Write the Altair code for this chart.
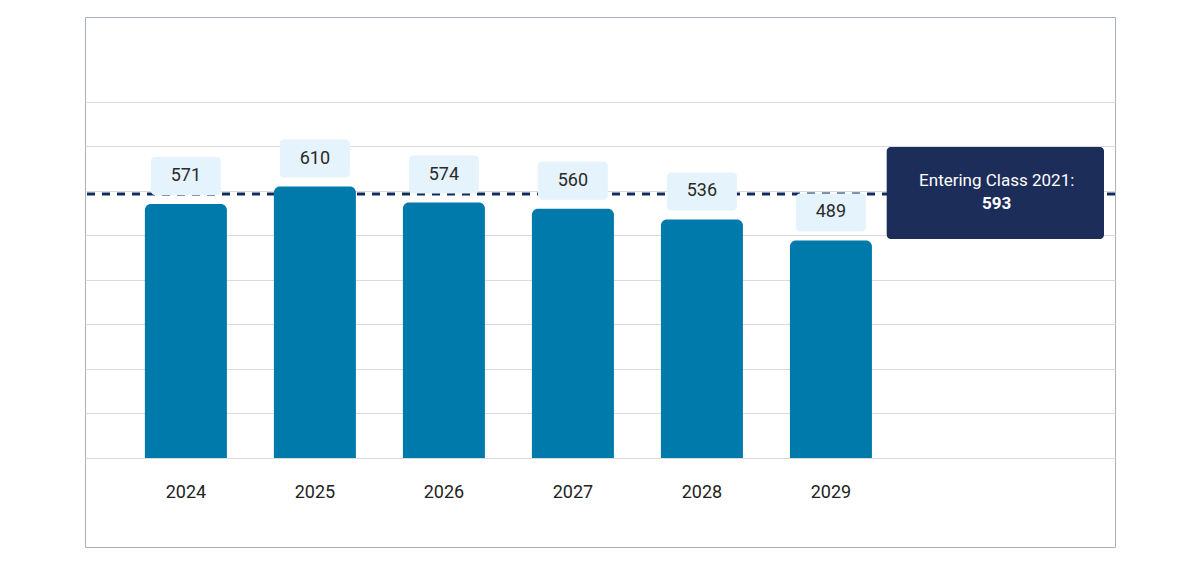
import altair as alt
import pandas as pd

years = ["2024", "2025", "2026", "2027", "2028", "2029"]
students = [571, 610, 574, 560, 536, 489]
ref_label = "Entering Class 2021:"
ref_value = 593
grid_values = [0, 100, 200, 300, 400, 500, 600, 700, 800]

df = pd.DataFrame({"year": years, "value": students})
ref_df = pd.DataFrame({"label": [ref_label], "value": [ref_value]})

FONT = "Roboto"
yscale = alt.Scale(domain=[-200, 991], nice=False, zero=False)
xscale = alt.Scale(domain=years, paddingInner=0.016, paddingOuter=1, align=0.145)

yaxis = alt.Axis(values=grid_values, grid=True, labels=False, ticks=False, domain=False,
                 title=None, gridColor="#d9d9de", gridWidth=1)
xaxis = alt.Axis(orient="bottom", offset=-89, labelPadding=34, labelBaseline="middle",
                 ticks=False, tickSize=0, domain=False, grid=False, title=None,
                 labelAngle=0, labelFont=FONT, labelFontSize=18, labelColor="#222222")

x_enc = alt.X("year:N", scale=xscale, axis=xaxis)
y_enc = alt.Y("value:Q", scale=yscale, axis=yaxis)

rule = alt.Chart(ref_df).mark_rule(
    color="#0f2d5c", strokeWidth=3, strokeDash=[8, 7]
).encode(y=y_enc)

bars = alt.Chart(df).mark_bar(
    color="#0079ab", width=82, cornerRadiusTopLeft=6, cornerRadiusTopRight=6
).encode(x=x_enc, y=y_enc, y2=alt.datum(0))

boxes = alt.Chart(df).mark_bar(
    color="#e5f4fc", width=70, cornerRadius=4, yOffset=-9, y2Offset=-47
).encode(x=x_enc, y=y_enc, y2=alt.Y2("value:Q"))

labels = alt.Chart(df).mark_text(
    font=FONT, fontSize=18, color="#2a2a2a", dy=-28, baseline="middle"
).encode(x=x_enc, y=y_enc, text=alt.Text("value:Q"))

ann_box = alt.Chart(ref_df).mark_rect(
    color="#1c2d5a", cornerRadius=4, yOffset=-47, y2Offset=45
).encode(x=alt.value(801.7), x2=alt.value(1019), y=y_enc, y2=alt.Y2("value:Q"))

ann_t1 = alt.Chart(ref_df).mark_text(
    font=FONT, fontSize=17, color="white", dy=-13, baseline="middle"
).encode(x=alt.value(911.7), y=y_enc, text="label:N")

ann_t2 = alt.Chart(ref_df).mark_text(
    font=FONT, fontSize=17, fontWeight="bold", color="white", dy=10, baseline="middle"
).encode(x=alt.value(911.7), y=y_enc, text="value:Q")

chart = alt.layer(rule, bars, boxes, labels, ann_box, ann_t1, ann_t2).properties(
    width=1030, height=530,
    padding={"left": 77, "top": 9, "right": 4, "bottom": 4},
    autosize=alt.AutoSizeParams(type="none"),
    background="white",
).configure_view(stroke="#a9b0c6", strokeWidth=1)

chart.save("out.html", embed_options={"renderer": "svg", "actions": False})
